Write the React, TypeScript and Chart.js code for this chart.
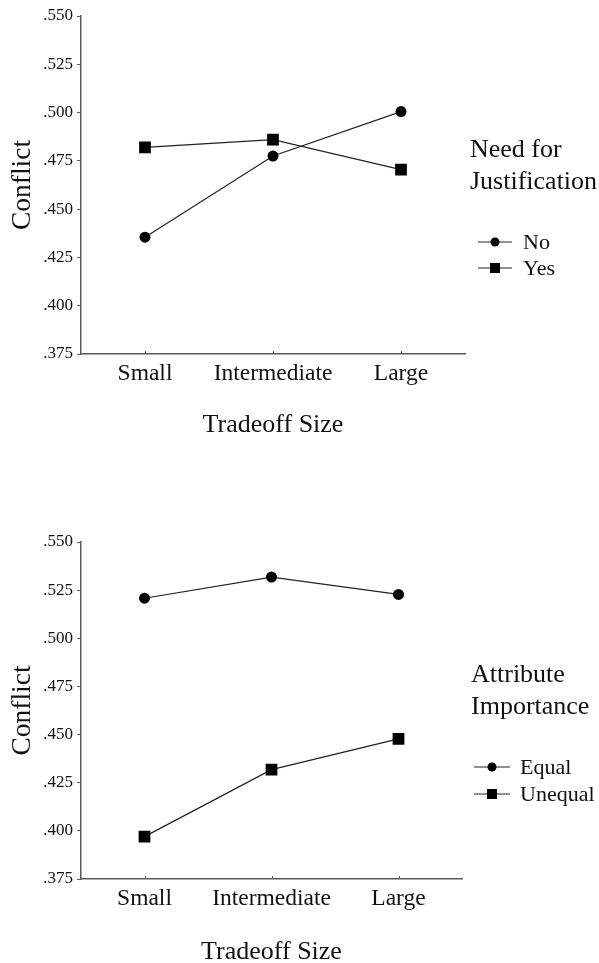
import React, { useEffect, useRef } from 'react';
import { Chart, registerables } from 'chart.js';

Chart.register(...registerables);

const categories = ['Small', 'Intermediate', 'Large'];
const yMin = 0.375;
const yMax = 0.55;
const yStep = 0.025;

const noJustification = [0.4355, 0.4775, 0.5005];
const yesJustification = [0.482, 0.486, 0.4705];
const equalImportance = [0.5208, 0.5318, 0.5228];
const unequalImportance = [0.397, 0.4318, 0.4478];

const legendTitleTop = ['Need for', 'Justification'];
const legendLabelsTop = ['No', 'Yes'];
const legendTitleBottom = ['Attribute', 'Importance'];
const legendLabelsBottom = ['Equal', 'Unequal'];

const xTitle = 'Tradeoff Size';
const yTitle = 'Conflict';

const FONT = "'Liberation Serif', 'Times New Roman', serif";
const AXIS_COLOR = '#5a5a5a';
const LINE_COLOR = '#222';
const TEXT_COLOR = '#111';

type PanelLayout = {
  top: number;
  height: number;
  areaTop: number;
  areaBottom: number;
  areaRight: number;
  titleCenter: number;
  legendX: number;
  legendTitleY: number[];
  legendItemY: number[];
  legendLineX0: number;
  legendLineX1: number;
  legendTextX: number;
};

const legendPlugin = {
  id: 'customLegend',
  afterDraw(chart: any, _args: any, opts: any) {
    const ctx = chart.ctx;
    const L: PanelLayout = opts.layout;
    const titles: string[] = opts.title;
    ctx.save();
    ctx.fillStyle = TEXT_COLOR;
    ctx.textBaseline = 'middle';
    ctx.textAlign = 'left';
    ctx.font = `26px ${FONT}`;
    titles.forEach((t, i) => ctx.fillText(t, L.legendX, L.legendTitleY[i]));
    ctx.font = `22px ${FONT}`;
    chart.data.datasets.forEach((ds: any, i: number) => {
      const y = L.legendItemY[i];
      ctx.strokeStyle = LINE_COLOR;
      ctx.lineWidth = 1.2;
      ctx.beginPath();
      ctx.moveTo(L.legendLineX0, y);
      ctx.lineTo(L.legendLineX1, y);
      ctx.stroke();
      const mx = (L.legendLineX0 + L.legendLineX1) / 2;
      ctx.fillStyle = '#000';
      if (ds.pointStyle === 'rect') {
        const s = 5;
        ctx.fillRect(mx - s, y - s, 2 * s, 2 * s);
      } else {
        ctx.beginPath();
        ctx.arc(mx, y, 4.5, 0, Math.PI * 2);
        ctx.fill();
      }
      ctx.fillStyle = TEXT_COLOR;
      ctx.fillText(ds.label, L.legendTextX, y + 1);
    });
    // inward x tick marks
    const xs = chart.scales.x;
    ctx.strokeStyle = AXIS_COLOR;
    ctx.lineWidth = 1;
    xs.ticks.forEach((_t: any, i: number) => {
      const x = Math.round(xs.getPixelForTick(i)) + 0.5;
      ctx.beginPath();
      ctx.moveTo(x, chart.chartArea.bottom);
      ctx.lineTo(x, chart.chartArea.bottom - 3);
      ctx.stroke();
    });
    ctx.restore();
  },
};

function Panel(props: {
  layout: PanelLayout;
  seriesA: number[];
  seriesB: number[];
  labels: string[];
  legendTitle: string[];
}) {
  const ref = useRef<HTMLCanvasElement | null>(null);
  const { layout: L } = props;
  useEffect(() => {
    if (!ref.current) return;
    const chart = new Chart(ref.current, {
      type: 'line',
      data: {
        labels: categories,
        datasets: [
          {
            label: props.labels[0],
            data: props.seriesA,
            borderColor: LINE_COLOR,
            backgroundColor: '#000',
            borderWidth: 1.2,
            pointStyle: 'circle',
            pointRadius: 5.5,
            pointBorderWidth: 0,
            pointBackgroundColor: '#000',
          },
          {
            label: props.labels[1],
            data: props.seriesB,
            borderColor: LINE_COLOR,
            backgroundColor: '#000',
            borderWidth: 1.2,
            pointStyle: 'rect',
            pointRadius: 8.3,
            pointBorderWidth: 0,
            pointBackgroundColor: '#000',
          },
        ],
      },
      options: {
        responsive: false,
        animation: false,
        events: [],
        layout: {
          padding: { top: L.areaTop, left: 0, right: 599 - L.areaRight, bottom: 0 },
        },
        plugins: {
          legend: { display: false },
          tooltip: { enabled: false },
          customLegend: { layout: L, title: props.legendTitle },
        } as any,
        scales: {
          x: {
            offset: true,
            grid: { display: false, drawTicks: false },
            border: { display: true, color: AXIS_COLOR, width: 1.5 },
            ticks: {
              color: TEXT_COLOR,
              font: { family: FONT, size: 23.5 },
              padding: 6,
              maxRotation: 0,
            },
            title: {
              display: true,
              text: xTitle,
              color: TEXT_COLOR,
              font: { family: FONT, size: 26 },
              padding: { top: 0, bottom: L.height - L.titleCenter - 15.6 },
            },
            afterFit: (s: any) => {
              s.height = L.height - L.areaBottom;
            },
          },
          y: {
            min: yMin,
            max: yMax,
            grid: {
              display: true,
              drawOnChartArea: false,
              drawTicks: true,
              tickLength: 4,
              color: AXIS_COLOR,
            },
            border: { display: true, color: AXIS_COLOR, width: 1.5 },
            ticks: {
              stepSize: yStep,
              color: TEXT_COLOR,
              font: { family: FONT, size: 17 },
              padding: 4,
              callback: (v: any) => {
                const n = Math.round(Number(v) * 1000) / 1000;
                return n.toFixed(3).replace(/^0/, '');
              },
            },
            title: {
              display: true,
              text: yTitle,
              color: TEXT_COLOR,
              font: { family: FONT, size: 27.5 },
              padding: { top: 6, bottom: 0 },
            },
            afterFit: (s: any) => {
              s.width = 81;
            },
          },
        },
      },
      plugins: [legendPlugin],
    } as any);
    return () => chart.destroy();
  }, []);
  return (
    <canvas
      ref={ref}
      width={599}
      height={L.height}
      style={{ position: 'absolute', left: 0, top: L.top, width: 599, height: L.height }}
    />
  );
}

const topLayout: PanelLayout = {
  top: 0,
  height: 480,
  areaTop: 16,
  areaBottom: 354,
  areaRight: 465,
  titleCenter: 425,
  legendX: 470,
  legendTitleY: [150, 182],
  legendItemY: [242, 268],
  legendLineX0: 478,
  legendLineX1: 512,
  legendTextX: 523,
};

const bottomLayout: PanelLayout = {
  top: 480,
  height: 483,
  areaTop: 62,
  areaBottom: 399,
  areaRight: 462,
  titleCenter: 472,
  legendX: 471,
  legendTitleY: [195, 227],
  legendItemY: [287, 314],
  legendLineX0: 474,
  legendLineX1: 510,
  legendTextX: 520,
};

export default function App() {
  return (
    <div
      style={{
        position: 'fixed',
        left: 0,
        top: 0,
        width: 599,
        height: 963,
        background: '#fff',
        overflow: 'hidden',
      }}
    >
      <Panel
        layout={topLayout}
        seriesA={noJustification}
        seriesB={yesJustification}
        labels={legendLabelsTop}
        legendTitle={legendTitleTop}
      />
      <Panel
        layout={bottomLayout}
        seriesA={equalImportance}
        seriesB={unequalImportance}
        labels={legendLabelsBottom}
        legendTitle={legendTitleBottom}
      />
    </div>
  );
}
